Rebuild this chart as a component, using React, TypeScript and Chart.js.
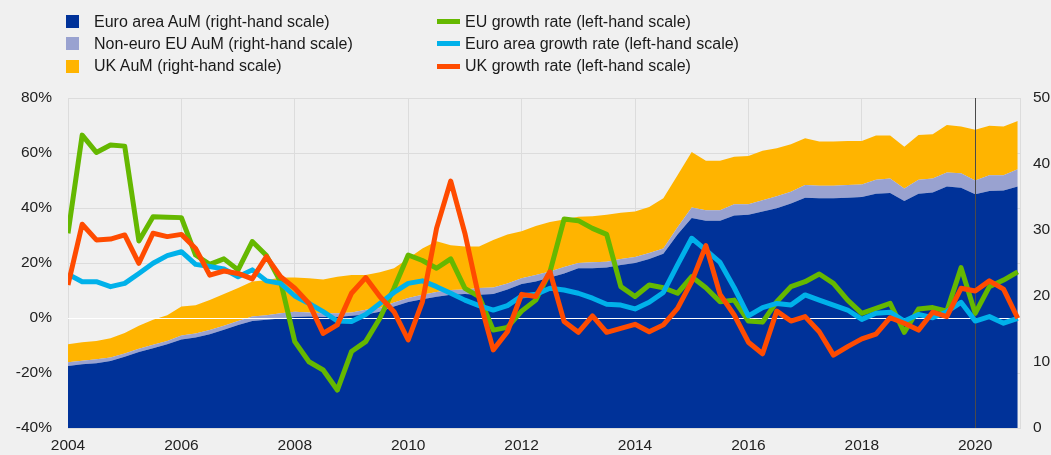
import React, { useEffect, useRef } from "react";
import { Chart, registerables } from "chart.js";

Chart.register(...registerables);

const START_YEAR = 2004;
const MARKER_YEAR = 2020;

// Right-hand scale: assets under management (stacked)
const euroAreaAum = [
  9.4, 9.65, 9.8, 10.15, 10.8, 11.5, 12.1, 12.7, 13.4, 13.7,
  14.2, 14.9, 15.6, 16.2, 16.4, 16.6, 16.8, 16.9, 16.8, 16.8,
  17.0, 17.2, 17.6, 18.4, 19.1, 19.5, 19.9, 20.2, 20.3, 20.2,
  20.3, 21.0, 21.8, 22.2, 22.8, 23.4, 24.2, 24.2, 24.3, 24.7,
  25.0, 25.6, 26.4, 29.3, 31.8, 31.4, 31.4, 32.2, 32.3, 32.8,
  33.3, 34.0, 34.9, 34.8, 34.8, 34.9, 35.0, 35.5, 35.6, 34.4,
  35.5, 35.7, 36.6, 36.4, 35.4, 35.9, 36.0, 36.6,
];
const nonEuroEuAum = [
  0.55, 0.55, 0.6, 0.55, 0.5, 0.5, 0.5, 0.5, 0.6, 0.6,
  0.65, 0.6, 0.6, 0.7, 0.7, 0.8, 0.8, 0.6, 0.6, 0.6,
  0.5, 0.7, 0.6, 0.6, 0.6, 0.7, 0.7, 0.7, 0.7, 1.0,
  1.0, 0.9, 0.9, 1.0, 0.9, 1.0, 0.8, 0.9, 0.9, 0.9,
  0.9, 0.9, 0.8, 1.1, 1.6, 1.6, 1.6, 1.7, 1.6, 1.7,
  1.8, 1.8, 1.9, 1.9, 1.9, 1.9, 1.9, 2.1, 2.2, 1.9,
  2.1, 2.1, 2.1, 2.2, 2.1, 2.4, 2.3, 2.6,
];
const ukAum = [
  2.75, 2.8, 2.8, 2.9, 3.1, 3.5, 3.8, 3.9, 4.4, 4.3,
  4.55, 4.8, 5.0, 5.3, 5.3, 5.4, 5.2, 5.2, 5.1, 5.5,
  5.7, 5.3, 5.4, 5.2, 6.0, 7.0, 7.7, 6.8, 6.5, 6.3,
  7.2, 7.4, 7.1, 7.4, 7.5, 7.2, 7.0, 7.0, 7.1, 7.0,
  6.9, 7.0, 7.6, 7.9, 8.4, 7.5, 7.5, 7.2, 7.3, 7.5,
  7.3, 7.2, 7.1, 6.7, 6.7, 6.7, 6.6, 6.7, 6.5, 6.3,
  6.8, 6.7, 7.2, 7.1, 7.7, 7.5, 7.4, 7.3,
];

// Left-hand scale: growth rates (%)
const euGrowth = [
  30.8, 66.5, 60.2, 62.9, 62.5, 28.0, 36.8, 36.6, 36.5, 22.9,
  19.5, 21.5, 17.5, 27.8, 22.7, 13.2, -8.6, -15.9, -18.9, -26.2,
  -12.2, -8.6, -0.1, 10.8, 22.9, 20.9, 18.1, 21.5, 10.8, 7.8,
  -4.4, -3.4, 2.5, 6.5, 16.8, 36.0, 35.4, 32.6, 30.4, 11.4,
  7.8, 12.0, 11.0, 9.0, 15.0, 11.0, 5.9, 6.5, -1.1, -1.5,
  5.9, 11.4, 13.2, 16.0, 12.6, 6.5, 1.7, 3.5, 5.3, -5.2,
  3.3, 3.8, 2.5, 18.3, 1.7, 11.4, 13.8, 16.8,
];
const euroAreaGrowth = [
  15.9, 13.2, 13.2, 11.4, 12.6, 16.2, 19.9, 22.7, 24.1, 19.5,
  18.7, 17.8, 15.0, 17.5, 13.5, 12.6, 8.0, 5.3, 2.3, -1.1,
  -1.3, 1.3, 5.3, 9.3, 12.6, 13.5, 11.4, 9.0, 6.5, 4.5,
  2.9, 4.5, 8.0, 8.6, 10.8, 10.2, 9.0, 7.2, 5.0, 4.7,
  3.3, 5.7, 9.3, 19.3, 29.0, 24.7, 20.2, 11.0, 0.8, 3.8,
  5.3, 4.7, 8.4, 6.5, 4.7, 2.9, -0.5, 1.7, 2.1, -1.1,
  1.3, 0.1, 2.3, 5.7, -1.1, 0.5, -1.9, -0.1,
];
const ukGrowth = [
  12.0, 34.1, 28.4, 28.7, 30.2, 19.9, 30.8, 29.6, 30.4, 25.3,
  15.6, 17.1, 16.2, 14.2, 22.3, 15.0, 10.8, 5.3, -5.6, -2.5,
  9.0, 14.7, 7.8, 2.3, -8.0, 5.9, 32.6, 49.8, 30.8, 7.2,
  -11.6, -5.0, 8.6, 7.8, 16.8, -1.3, -5.2, 0.8, -5.2, -3.8,
  -2.3, -5.0, -2.5, 3.5, 13.2, 26.3, 8.6, 1.1, -8.8, -13.0,
  2.5, -1.1, 0.5, -5.0, -13.5, -10.4, -7.6, -5.9, 0.1, -1.9,
  -4.4, 2.1, 0.5, 10.8, 9.8, 13.5, 10.5, -0.1,
];

// Quarter labels, e.g. "2004Q1"
const quarters: string[] = [];
for (let i = 0; i < euroAreaAum.length; i++) {
  quarters.push(`${START_YEAR + Math.floor(i / 4)}Q${(i % 4) + 1}`);
}
const quarterToX = (q: string) => {
  const [y, qq] = q.split("Q");
  return Number(y) + (Number(qq) - 1) / 4;
};

const leftTicks = [-40, -20, 0, 20, 40, 60, 80];
const rightTicks = [0, 10, 20, 30, 40, 50];
const xTickYears = [2004, 2006, 2008, 2010, 2012, 2014, 2016, 2018, 2020];

const COLORS = {
  euroArea: "#003299",
  nonEuro: "#99a2d0",
  uk: "#ffb400",
  euGrowth: "#65b800",
  euroGrowth: "#00b1ea",
  ukGrowth: "#ff4b00",
};

const legendItems = [
  { label: "Euro area AuM (right-hand scale)", color: COLORS.euroArea, type: "box", col: 0, row: 0 },
  { label: "Non-euro EU AuM (right-hand scale)", color: COLORS.nonEuro, type: "box", col: 0, row: 1 },
  { label: "UK AuM (right-hand scale)", color: COLORS.uk, type: "box", col: 0, row: 2 },
  { label: "EU growth rate (left-hand scale)", color: COLORS.euGrowth, type: "line", col: 1, row: 0 },
  { label: "Euro area growth rate (left-hand scale)", color: COLORS.euroGrowth, type: "line", col: 1, row: 1 },
  { label: "UK growth rate (left-hand scale)", color: COLORS.ukGrowth, type: "line", col: 1, row: 2 },
];

const FONT = '"Liberation Sans", Arial, Helvetica, sans-serif';

const toPoints = (vals: number[]) => vals.map((v, i) => ({ x: quarterToX(quarters[i]), y: v }));

const overlayPlugin = {
  id: "overlayLines",
  afterDatasetDraw(chart: any, args: any) {
    if (args.index !== 0) return; // after Euro area area (last area drawn)
    const { ctx, chartArea, scales } = chart;
    const y0 = Math.round(scales.y.getPixelForValue(0)) + 0.5;
    ctx.save();
    ctx.lineWidth = 1;
    ctx.strokeStyle = "#ffffff";
    ctx.beginPath();
    ctx.moveTo(chartArea.left, y0);
    ctx.lineTo(chartArea.right, y0);
    ctx.stroke();
    const xm = Math.round(scales.x.getPixelForValue(MARKER_YEAR)) + 0.5;
    ctx.strokeStyle = "#4a4a4a";
    ctx.beginPath();
    ctx.moveTo(xm, chartArea.top);
    ctx.lineTo(xm, chartArea.bottom);
    ctx.stroke();
    ctx.restore();
  },
};

export default function App() {
  const canvasRef = useRef<HTMLCanvasElement | null>(null);

  useEffect(() => {
    const canvas = canvasRef.current;
    if (!canvas) return;
    const lineDs = (label: string, data: number[], color: string, order: number) => ({
      type: "line" as const,
      label,
      data: toPoints(data),
      yAxisID: "y",
      borderColor: color,
      backgroundColor: color,
      borderWidth: 5,
      pointRadius: 0,
      tension: 0,
      fill: false,
      order,
      borderJoinStyle: "round" as const,
      borderCapStyle: "butt" as const,
    });
    const areaDs = (label: string, data: number[], color: string, fill: any, order: number) => ({
      type: "line" as const,
      label,
      data: toPoints(data),
      yAxisID: "y1",
      borderColor: color,
      backgroundColor: color,
      borderWidth: 0,
      pointRadius: 0,
      tension: 0,
      fill,
      order,
    });

    const chart = new Chart(canvas, {
      type: "line",
      data: {
        datasets: [
          areaDs("Euro area AuM (right-hand scale)", euroAreaAum, COLORS.euroArea, "origin", 3),
          areaDs("Non-euro EU AuM (right-hand scale)", nonEuroEuAum, COLORS.nonEuro, "-1", 4),
          areaDs("UK AuM (right-hand scale)", ukAum, COLORS.uk, "-1", 5),
          lineDs("EU growth rate (left-hand scale)", euGrowth, COLORS.euGrowth, 2),
          lineDs("Euro area growth rate (left-hand scale)", euroAreaGrowth, COLORS.euroGrowth, 1),
          lineDs("UK growth rate (left-hand scale)", ukGrowth, COLORS.ukGrowth, 0),
        ],
      },
      options: {
        responsive: false,
        animation: false,
        events: [],
        layout: { padding: { top: 98, left: 0, right: 0, bottom: 0 } },
        plugins: {
          legend: { display: false },
          tooltip: { enabled: false },
          title: { display: false },
        },
        scales: {
          x: {
            type: "linear",
            min: START_YEAR,
            max: 2020.79,
            afterFit: (s: any) => { s.height = 27; },
            afterBuildTicks: (s: any) => { s.ticks = xTickYears.map((v) => ({ value: v })); },
            ticks: {
              includeBounds: false,
              autoSkip: false,
              maxRotation: 0,
              padding: 8,
              color: "#222222",
              font: { family: FONT, size: 15.5 },
              callback: (v: any) => String(v),
            },
            grid: {
              color: "#dcdcdc",
              lineWidth: 1,
              drawTicks: false,
            },
            border: { display: true, color: "#dcdcdc" },
          },
          y: {
            type: "linear",
            position: "left",
            min: -40,
            max: 80,
            afterFit: (s: any) => { s.width = 68; },
            afterBuildTicks: (s: any) => { s.ticks = leftTicks.map((v) => ({ value: v })); },
            ticks: {
              padding: 16,
              color: "#222222",
              font: { family: FONT, size: 15.5 },
              callback: (v: any) => `${v}%`,
            },
            grid: { color: "#dcdcdc", lineWidth: 1, drawTicks: false },
            border: { display: false },
          },
          y1: {
            type: "linear",
            position: "right",
            min: 0,
            max: 50,
            stacked: true,
            afterFit: (s: any) => { s.width = 31; },
            afterBuildTicks: (s: any) => { s.ticks = rightTicks.map((v) => ({ value: v })); },
            ticks: {
              padding: 13,
              color: "#222222",
              font: { family: FONT, size: 15.5 },
              callback: (v: any) => String(v),
            },
            grid: { drawOnChartArea: false, drawTicks: false },
            border: { display: true, color: "#dcdcdc" },
          },
        },
      },
      plugins: [overlayPlugin],
    });
    return () => chart.destroy();
  }, []);

  const colX = [66, 437];
  const rowY = [21.5, 43.5, 66];

  return (
    <div
      style={{
        position: "absolute",
        left: 0,
        top: 0,
        width: 1051,
        height: 455,
        background: "#f0f0f0",
        overflow: "hidden",
        fontFamily: FONT,
      }}
    >
      <canvas ref={canvasRef} width={1051} height={455} style={{ position: "absolute", left: 0, top: 0, display: "block" }} />
      {legendItems.map((it) => (
        <div
          key={it.label}
          style={{
            position: "absolute",
            left: colX[it.col],
            top: rowY[it.row] - 10,
            height: 20,
            display: "flex",
            alignItems: "center",
            whiteSpace: "nowrap",
            fontSize: 16,
            color: "#1a1a1a",
          }}
        >
          <span
            style={{
              display: "inline-block",
              width: it.type === "box" ? 13 : 23,
              height: it.type === "box" ? 13 : 5,
              background: it.color,
              marginRight: it.type === "box" ? 15 : 5,
            }}
          />
          <span>{it.label}</span>
        </div>
      ))}
    </div>
  );
}
